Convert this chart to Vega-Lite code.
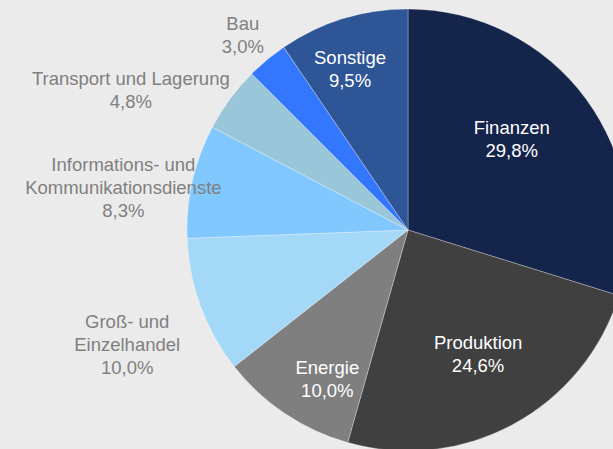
{
  "$schema": "https://vega.github.io/schema/vega-lite/v6.json",
  "width": 816,
  "height": 460,
  "autosize": {"type": "none"},
  "padding": {"left": 0, "top": 0, "right": -203, "bottom": -11},
  "background": "#ebebeb",
  "config": {"view": {"stroke": null}, "font": "Liberation Sans"},
  "data": {
    "values": [
      {"Branche": "Finanzen", "Anteil": 29.8},
      {"Branche": "Produktion", "Anteil": 24.6},
      {"Branche": "Energie", "Anteil": 10.0},
      {"Branche": "Groß- und\nEinzelhandel", "Anteil": 10.0},
      {"Branche": "Informations- und\nKommunikationsdienste", "Anteil": 8.3},
      {"Branche": "Transport und Lagerung", "Anteil": 4.8},
      {"Branche": "Bau", "Anteil": 3.0},
      {"Branche": "Sonstige", "Anteil": 9.5}
    ]
  },
  "transform": [
    {"window": [{"op": "row_number", "as": "Reihenfolge"}]},
    {"stack": "Anteil", "groupby": [], "sort": [{"field": "Reihenfolge", "order": "ascending"}], "as": ["Start", "Ende"]},
    {"calculate": "(datum.Start + datum.Ende) / 2", "as": "Mitte"},
    {"calculate": "datum.Branche + '\\n' + replace(format(datum.Anteil, '.1f'), '.', ',') + '%'", "as": "Beschriftung"}
  ],
  "layer": [
    {
      "mark": {"type": "arc", "radius": 221, "stroke": "#ffffff", "strokeWidth": 0.3},
      "encoding": {
        "theta": {"field": "Start", "type": "quantitative", "scale": {"domain": [0, 100]}},
        "theta2": {"field": "Ende"},
        "color": {
          "field": "Branche",
          "type": "nominal",
          "legend": null,
          "scale": {
            "domain": ["Finanzen", "Produktion", "Energie", "Groß- und\nEinzelhandel", "Informations- und\nKommunikationsdienste", "Transport und Lagerung", "Bau", "Sonstige"],
            "range": ["#15244a", "#404040", "#7f7f7f", "#a3d8f7", "#80c8ff", "#99c6d9", "#3377ff", "#2e5596"]
          }
        }
      }
    },
    {
      "transform": [{"filter": {"field": "Branche", "equal": "Finanzen"}}],
      "mark": {"type": "text", "radius": 140, "dx": -9, "dy": -19, "color": "#ffffff", "fontSize": 18.5, "lineHeight": 23, "lineBreak": "\n", "align": "center", "baseline": "middle"},
      "encoding": {"theta": {"field": "Mitte", "type": "quantitative", "scale": {"domain": [0, 100]}}, "text": {"field": "Beschriftung"}}
    },
    {
      "transform": [{"filter": {"field": "Branche", "equal": "Produktion"}}],
      "mark": {"type": "text", "radius": 143, "dx": 2, "dy": -13, "color": "#ffffff", "fontSize": 18.5, "lineHeight": 23, "lineBreak": "\n", "align": "center", "baseline": "middle"},
      "encoding": {"theta": {"field": "Mitte", "type": "quantitative", "scale": {"domain": [0, 100]}}, "text": {"field": "Beschriftung"}}
    },
    {
      "transform": [{"filter": {"field": "Branche", "equal": "Energie"}}],
      "mark": {"type": "text", "radius": 170, "dx": 14, "dy": -3, "color": "#ffffff", "fontSize": 18.5, "lineHeight": 23, "lineBreak": "\n", "align": "center", "baseline": "middle"},
      "encoding": {"theta": {"field": "Mitte", "type": "quantitative", "scale": {"domain": [0, 100]}}, "text": {"field": "Beschriftung"}}
    },
    {
      "transform": [{"filter": {"field": "Branche", "equal": "Sonstige"}}],
      "mark": {"type": "text", "radius": 170, "dx": -8, "dy": -10, "color": "#ffffff", "fontSize": 18.5, "lineHeight": 23, "lineBreak": "\n", "align": "center", "baseline": "middle"},
      "encoding": {"theta": {"field": "Mitte", "type": "quantitative", "scale": {"domain": [0, 100]}}, "text": {"field": "Beschriftung"}}
    },
    {
      "transform": [{"filter": {"field": "Branche", "equal": "Groß- und\nEinzelhandel"}}],
      "mark": {"type": "text", "radius": 297, "dx": -2, "dy": -10, "color": "#808080", "fontSize": 18.5, "lineHeight": 23, "lineBreak": "\n", "align": "center", "baseline": "middle"},
      "encoding": {"theta": {"field": "Mitte", "type": "quantitative", "scale": {"domain": [0, 100]}}, "text": {"field": "Beschriftung"}}
    },
    {
      "transform": [{"filter": {"field": "Branche", "equal": "Informations- und\nKommunikationsdienste"}}],
      "mark": {"type": "text", "radius": 297, "dx": 5, "dy": 1, "color": "#808080", "fontSize": 18.5, "lineHeight": 23, "lineBreak": "\n", "align": "center", "baseline": "middle"},
      "encoding": {"theta": {"field": "Mitte", "type": "quantitative", "scale": {"domain": [0, 100]}}, "text": {"field": "Beschriftung"}}
    },
    {
      "transform": [{"filter": {"field": "Branche", "equal": "Transport und Lagerung"}}],
      "mark": {"type": "text", "radius": 297, "dx": -38, "dy": 25, "color": "#808080", "fontSize": 18.5, "lineHeight": 23, "lineBreak": "\n", "align": "center", "baseline": "middle"},
      "encoding": {"theta": {"field": "Mitte", "type": "quantitative", "scale": {"domain": [0, 100]}}, "text": {"field": "Beschriftung"}}
    },
    {
      "transform": [{"filter": {"field": "Branche", "equal": "Bau"}}],
      "mark": {"type": "text", "radius": 256, "dx": -2, "dy": -9, "color": "#808080", "fontSize": 18.5, "lineHeight": 23, "lineBreak": "\n", "align": "center", "baseline": "middle"},
      "encoding": {"theta": {"field": "Mitte", "type": "quantitative", "scale": {"domain": [0, 100]}}, "text": {"field": "Beschriftung"}}
    }
  ]
}
